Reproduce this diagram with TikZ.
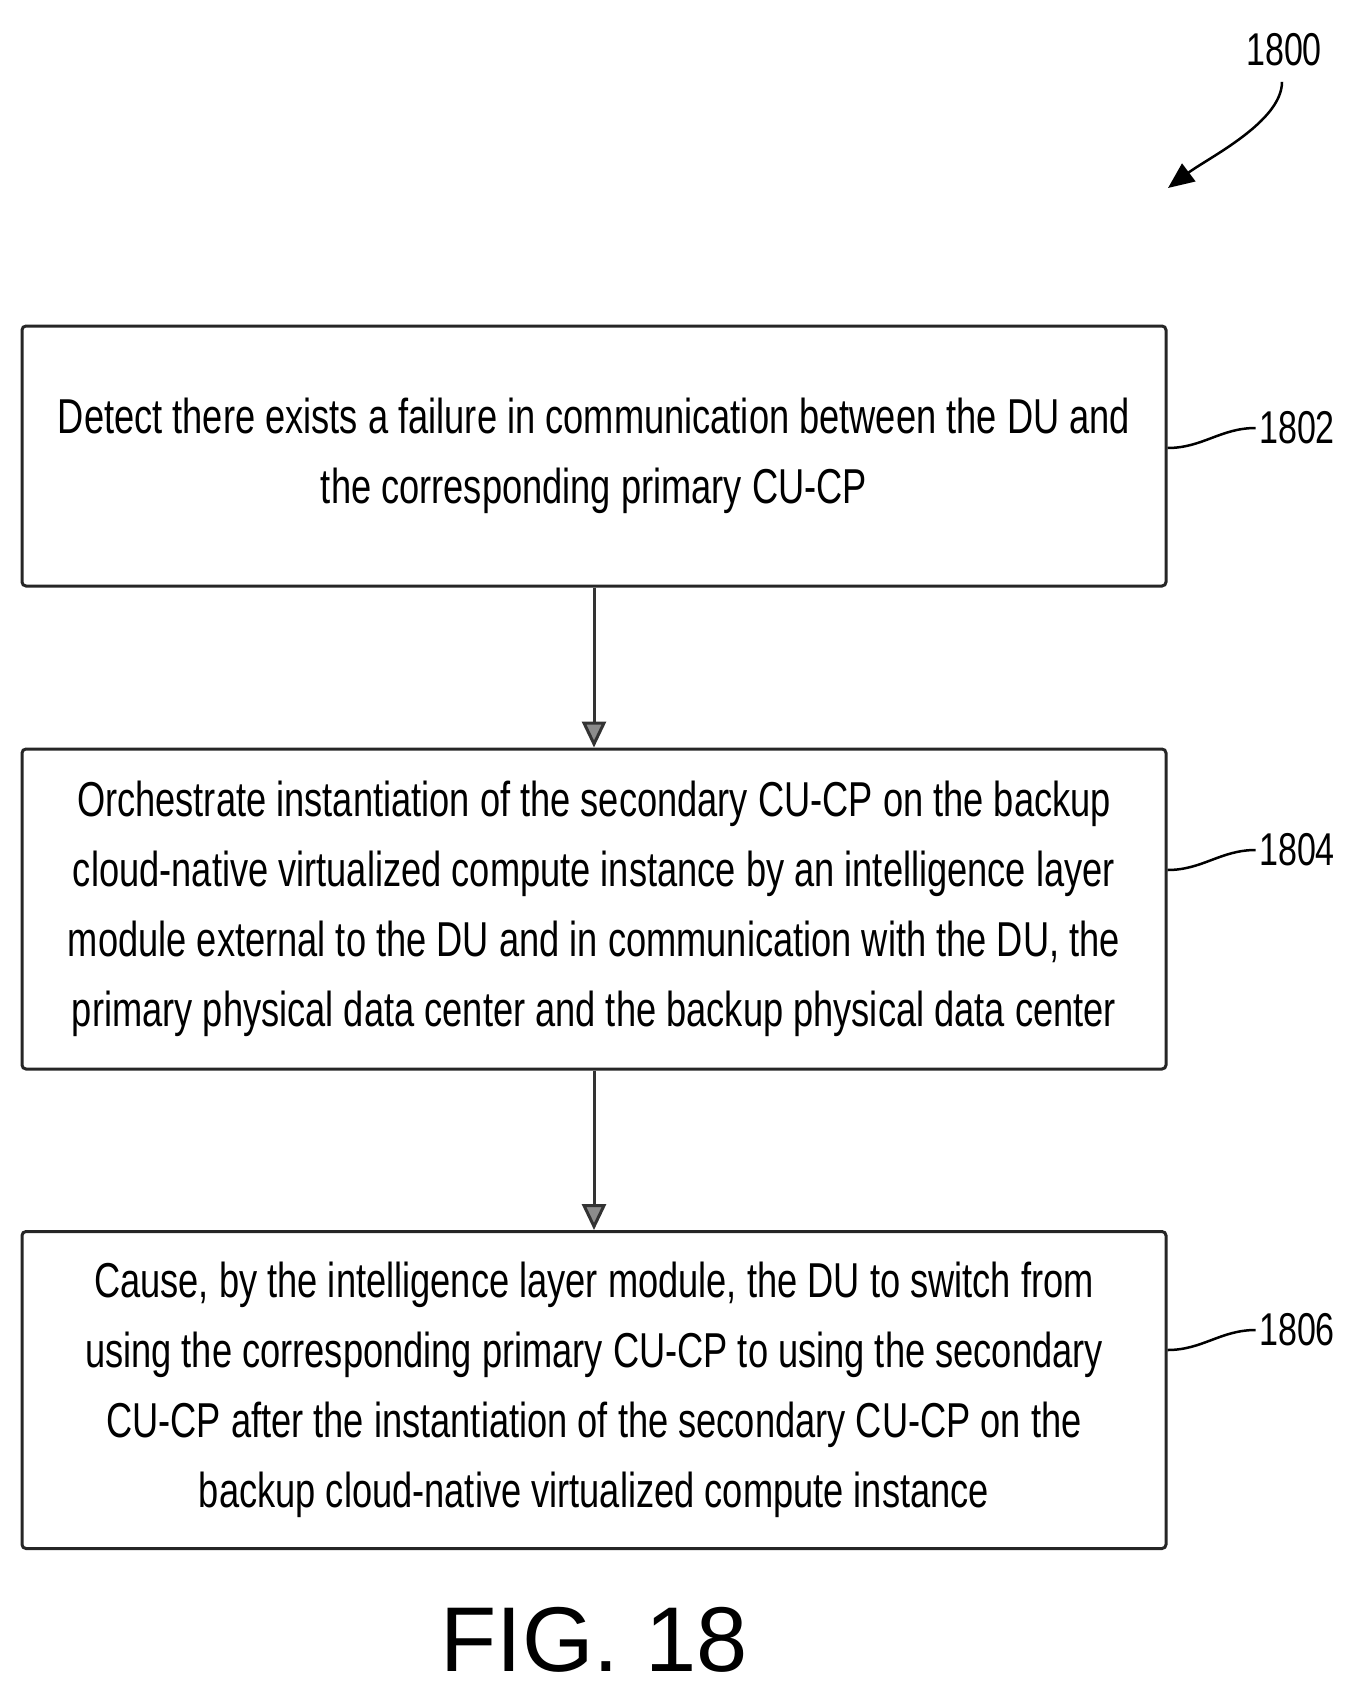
\documentclass[tikz,border=0pt]{standalone}
\usepackage{fontspec}
\setmainfont{Liberation Sans}[FakeStretch=0.74]
\newfontfamily\figfont{Liberation Sans}
\usetikzlibrary{arrows.meta}
\begin{document}
\begin{tikzpicture}[x=1pt,y=-1pt,
  stepbox/.style={draw=black!85,line width=3pt,rounded corners=4pt,minimum width=1144pt,align=center,
    font=\fontsize{49}{70}\selectfont,inner sep=0pt},
  flow/.style={draw=black!80,line width=3pt,-{Triangle[length=26pt,width=24pt,fill=black!45]}},
  tag/.style={font=\fontsize{46}{50}\selectfont}]
\useasboundingbox (0,0) rectangle (1351,1697);
\node[stepbox,minimum height=260pt] (s1) at (594,456) {Detect there exists a failure in communication between the DU and\\the corresponding primary CU-CP};
\node[stepbox,minimum height=320pt] (s2) at (594,909) {Orchestrate instantiation of the secondary CU-CP on the backup\\cloud-native virtualized compute instance by an intelligence layer\\module external to the DU and in communication with the DU, the\\primary physical data center and the backup physical data center};
\node[stepbox,minimum height=317pt] (s3) at (594,1390) {Cause, by the intelligence layer module, the DU to switch from\\using the corresponding primary CU-CP to using the secondary\\CU-CP after the instantiation of the secondary CU-CP on the\\backup cloud-native virtualized compute instance};
\draw[flow] (s1) -- (s2);
\draw[flow] (s2) -- (s3);
% reference numerals
\node[tag] (n1802) at (1297,428) {1802};
\node[tag] (n1804) at (1297,850) {1804};
\node[tag] (n1806) at (1297,1330) {1806};
\foreach \s/\n in {s1/n1802,s2/n1804,s3/n1806}
  \draw[line width=2.5pt] (\s.east |- \n.west) ++(0,20) .. controls +(35,0) and +(-35,0) .. (\n.west);
\node[tag] (n1800) at (1284,50) {1800};
\coordinate (tip) at (1168,188);
\draw[line width=2.5pt,-{Triangle[length=26pt,width=22pt]}] (n1800.south) ++(-2,12) .. controls +(0,40) and +(40,-30) .. (tip);
\node[font=\figfont\fontsize{92}{92}\selectfont] (fig) at (594,1640) {FIG. 18};
\end{tikzpicture}
\end{document}
